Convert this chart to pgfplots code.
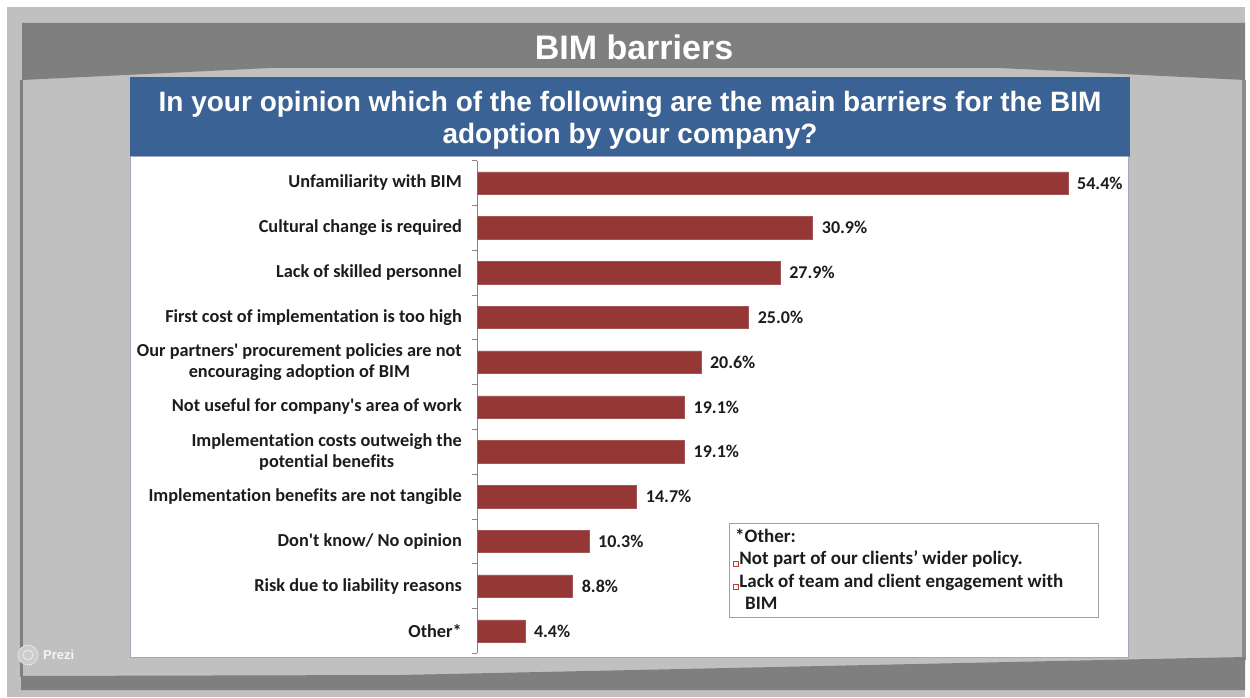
\documentclass[border=0pt]{standalone}
\usepackage{pgfplots}
\pgfplotsset{compat=1.18}
\usepackage{fontspec}
\setmainfont{Carlito}[Ligatures=NoCommon]
\newfontfamily\arialf{Liberation Sans}
\definecolor{barred}{HTML}{953735}
\definecolor{hdrblue}{HTML}{3A6294}
\definecolor{dgray}{HTML}{7F7F7F}
\definecolor{lgray}{HTML}{C0C0C0}
\definecolor{txt}{HTML}{1C1C1C}
\definecolor{axgray}{HTML}{868686}
\definecolor{boxgray}{HTML}{A89C9C}
\definecolor{wborder}{HTML}{A3A6BE}
\definecolor{bulred}{HTML}{C0392B}
\newcommand{\bul}{{\color{bulred}\setlength\fboxsep{1.9pt}\setlength\fboxrule{0.8pt}\fbox{\rule{0pt}{0pt}}}\hspace{0.8pt}}
\newcommand{\ap}{\textquotesingle}
\begin{document}
\begin{tikzpicture}[x=1pt,y=1pt]
\path[use as bounding box, fill=white] (0,0) rectangle (1250,697);
\fill[lgray] (7,0) rectangle (1245,690);
\fill[dgray] (22,674) -- (1245,674) -- (1245,617) -- (1000,629) -- (270,629) -- (22,617) -- cycle;
\fill[dgray] (20,20) rectangle (23,617);
\fill[dgray!80!lgray] (1242,37) rectangle (1246,617);
\fill[dgray] (21,21) -- (400,22) -- (1245,40) -- (1245,7) -- (21,7) -- cycle;
\fill[hdrblue] (130,540) rectangle (1130,620);
\filldraw[fill=white, draw=wborder, line width=1pt] (130,40) rectangle (1128,540);
\node[anchor=base, text=white, font=\arialf\bfseries\fontsize{34}{40}\selectfont, inner sep=0pt] at (634,637) {BIM barriers};
\node[anchor=base, text=white, font=\arialf\bfseries\fontsize{28}{32}\selectfont, inner sep=0pt] at (630,585) {In your opinion which of the following are the main barriers for the BIM};
\node[anchor=base, text=white, font=\arialf\bfseries\fontsize{28}{32}\selectfont, inner sep=0pt] at (630,553) {adoption by your company?};
\begin{axis}[
  at={(477pt,43.6pt)}, anchor=south west,
  scale only axis, width=651.8pt, height=492.8pt,
  xbar, bar width=22.5pt,
  xmin=0, xmax=60,
  ymin=-0.5, ymax=10.5, y dir=reverse,
  hide x axis,
  axis y line*=left,
  y axis line style={axgray, line width=0.8pt},
  ytick={0,...,10},
  yticklabels={Unfamiliarity with BIM,Cultural change is required,Lack of skilled personnel,First cost of implementation is too high,{Our partners\ap{} procurement policies are not\\encouraging adoption of BIM},Not useful for company\ap{}s area of work,{Implementation costs outweigh the\\potential benefits},Implementation benefits are not tangible,Don\ap{}t know/ No opinion,Risk due to liability reasons,Other*},
  yticklabel style={font=\bfseries\fontsize{18.3}{20.5}\selectfont, text=txt, align=center, inner sep=0pt, xshift=-15pt},
  major tick length=0pt,
  extra y ticks={-0.5,0.5,...,10.5},
  extra y tick labels={},
  extra y tick style={major tick length=5pt, tick align=outside, tick style={axgray, line width=0.8pt}},
  nodes near coords={\pgfmathprintnumber[fixed,fixed zerofill,precision=1,assume math mode=true]{\pgfplotspointmeta}\%},
  nodes near coords style={anchor=west, inner sep=0pt, xshift=9pt, font=\bfseries\fontsize{18}{20}\selectfont, text=txt},
  point meta=x,
  clip=false,
]
\addplot[fill=barred, draw=barred!85!white, line width=0.5pt] coordinates {
(54.4,0) (30.9,1) (27.9,2) (25.0,3) (20.6,4) (19.1,5) (19.1,6) (14.7,7) (10.3,8) (8.8,9) (4.4,10)
};
\end{axis}
\draw[boxgray, line width=0.8pt] (729,80) rectangle (1098,174);
\begin{scope}[every node/.style={anchor=base west, inner sep=0pt, text=txt, font=\bfseries\fontsize{19}{22}\selectfont}]
\node at (735,155) {*Other:};
\node at (733,133) {\bul Not part of our clients’ wider policy.};
\node at (733,110) {\bul Lack of team and client engagement with};
\node at (745,88) {BIM};
\end{scope}
\filldraw[fill=lgray!80!white, draw=white!90!gray, densely dotted, line width=1pt] (28,42) circle (10);
\draw[white!85!gray, line width=0.8pt] (28,42) circle (5);
\node[anchor=base west, inner sep=0pt, text=white!92!gray, font=\arialf\bfseries\fontsize{13}{14}\selectfont] at (43,37.5) {Prezi};
\end{tikzpicture}
\end{document}
